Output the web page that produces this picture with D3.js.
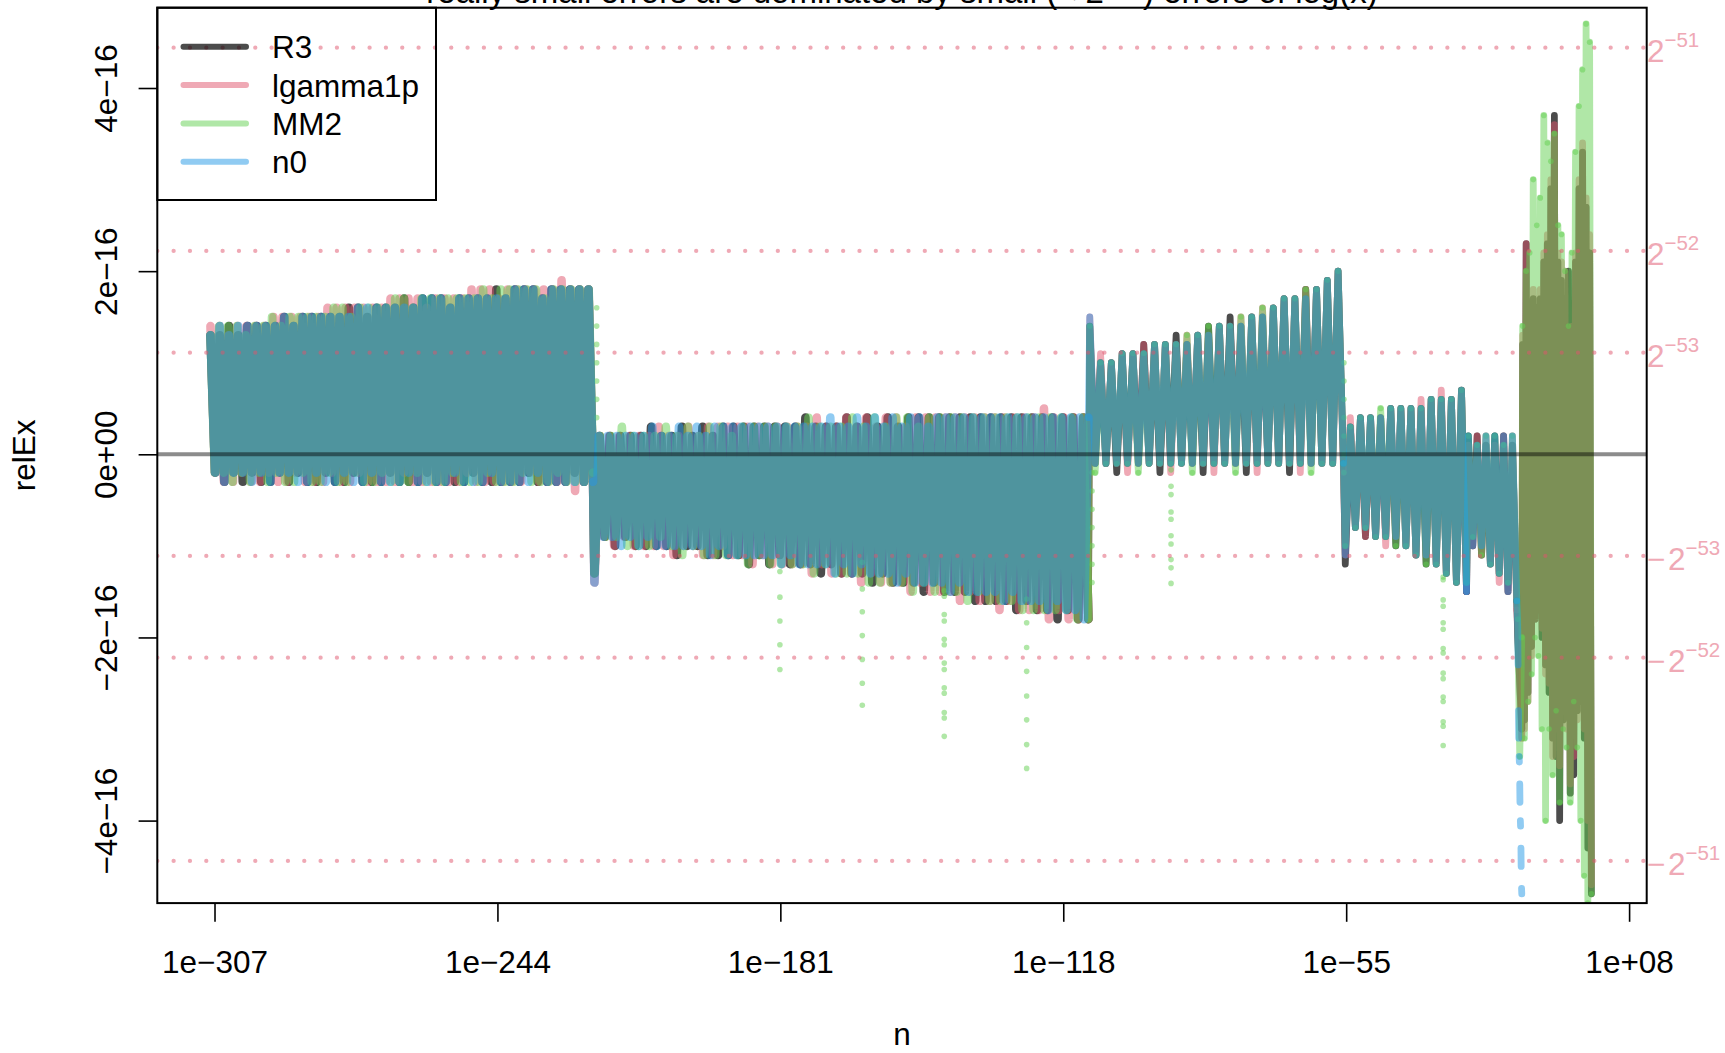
<!DOCTYPE html>
<html><head><meta charset="utf-8">
<script src="https://cdn.jsdelivr.net/npm/d3@7"></script>
<style>
html,body{margin:0;padding:0;background:#fff;}
svg{display:block;font-family:"Liberation Sans",Arial,Helvetica,sans-serif;}
</style></head><body>
<svg id="chart" width="1725" height="1053"></svg>
<script>
// ---------------- data ----------------
// relEx values are given in units of 1e-17; x = log10(n) ranges per sampled segment
// (null = NA, breaks the line)
const UNIT = 1e-17;
const seriesNames = ["R3", "lgamma1p", "MM2", "n0"];
const segLog10n = [[-307.9,-222.7],[-222.4,-112.4],[-112.1,-55.6],[-55.2,-28.2],[-27.8,-17.0],[-16.8,-15.9],[-15.7,-0.4]];
const xTickLog10 = [-307, -244, -181, -118, -55, 8];
const xTickLabels = ["1e\u2212307","1e\u2212244","1e\u2212181","1e\u2212118","1e\u221255","1e+08"];
const yTicks = [-4e-16, -2e-16, 0, 2e-16, 4e-16];
const yTickLabels = ["\u22124e\u221216","\u22122e\u221216","0e+00","2e\u221216","4e\u221216"];
const refPowers = [-51, -52, -53];

const R3 = [
 [13,-2,13,-3,14,-2,13,-3,14,-2,14,-3,14,-3,14,-2,15,-3,14,-2,15,-3,15,-3,15,-2,15,-3,15,-3,16,-2,16,-3,15,-3,16,-3,16,-2,16,-3,17,-3,16,-3,17,-2,17,-3,17,-3,16,-3,17,-3,17,-2,17,-3,17,-3,18,-3,17,-3,18,-3,18,-2,18,-3,17,-3,18,-3,18,-3,18,-2,18,-3,18,-3],
 [-13,2,-9,2,-10,2,-9,2,-10,2,-10,3,-10,2,-10,2,-11,3,-10,2,-10,3,-11,2,-11,3,-11,3,-11,3,-12,3,-11,3,-12,3,-11,3,-12,3,-12,4,-12,3,-13,3,-12,3,-13,4,-13,3,-13,4,-14,3,-13,4,-14,3,-14,4,-14,4,-15,4,-14,4,-15,4,-15,4,-15,4,-16,4,-16,4,-16,4,-16,4,-17,4,-16,4,-17,4,-17,4,-18,4,-17,4,-18,4,-18],
 [14,-1,10,-1,10,-2,11,-1,11,-1,12,-1,12,-2,12,-1,13,-1,12,-1,13,-2,14,-1,14,-1,15,-1,14,-2,15,-1,15,-1,16,-1,17,-2,17,-1,18,-1,18,-1,19,-1,20,-1],
 [-12,3,-8,4,-9,4,-9,4,-9,5,-10,5,-10,5,-11,5,-12,6,-12,6,-13,6,-14,7,-15],
 [2,-10,2,-11,1,-12,2,-13,2,-15,1,-16],
 [-20,-30],
 [12,-29,23,-26,14,-21,17,-18,16,-17,17,-20,21,-23,23,-26,29,-31,37,-33,21,-40,19,-29,17,-27,20,-37,13,-35,21,-28,29,-27,33,-31,27,-43,22,-48]
];
const lgamma1p = [
 [14,-2,14,-3,13,-3,14,-2,14,-3,14,-3,14,-2,15,-3,15,-3,15,-2,15,-3,15,-3,15,-3,16,-2,16,-3,16,-3,16,-2,16,-3,16,-3,16,-3,17,-3,17,-2,17,-3,17,-3,16,-3,17,-3,17,-3,17,-3,17,-2,18,-3,18,-3,18,-3,17,-3,18,-3,18,-3,18,-2,18,-3,18,-3,18,-3,19,-3,18,-4,18,-3,18,-3],
 [-14,2,-9,2,-10,2,-9,2,-10,2,-10,2,-10,3,-10,2,-11,2,-10,3,-10,2,-11,3,-11,3,-10,3,-11,3,-11,3,-12,3,-11,3,-12,3,-12,3,-12,3,-12,3,-13,4,-12,3,-13,3,-13,4,-13,3,-14,4,-13,3,-14,4,-14,4,-14,3,-15,4,-14,4,-15,4,-15,4,-15,4,-16,4,-15,4,-16,4,-16,4,-17,4,-16,4,-17,4,-17,4,-17,5,-18,4,-17,4,-18,4,-18,4,-18],
 [15,-1,11,-1,10,-1,11,-2,11,-1,12,-1,12,-1,12,-2,12,-1,13,-1,13,-1,13,-2,14,-1,14,-1,15,-1,15,-2,16,-1,16,-1,17,-1,17,-2,18,-1,18,-1,19,-1,20,-2],
 [-11,4,-8,4,-9,4,-9,4,-10,5,-9,5,-10,5,-11,6,-11,6,-12,7,-13,6,-14,7,-15],
 [1,-10,2,-11,2,-12,1,-14,2,-15,2,-17],
 [-19,-31],
 [13,-30,23,-27,15,-22,18,-18,17,-17,18,-19,22,-24,24,-25,30,-33,36,-30,22,-34,21,-28,20,-30,10,-36,14,-33,22,-29,30,-28,34,-30,28,-40,24,-47]
];
const MM2 = [
 [13,-2,14,-2,14,-3,14,-2,13,-3,14,-2,14,-3,15,-2,14,-3,15,-3,15,-2,15,-3,15,-3,15,-2,16,-3,16,-3,15,-2,16,-3,16,-3,16,-2,16,-3,17,-3,17,-3,16,-2,17,-3,17,-3,17,-3,17,-2,17,-3,17,-3,17,-3,18,-2,17,-3,18,-3,18,-3,18,-2,18,-3,18,-3,17,-3,18,-2,18,-3,18,-3,18,-3,18,-2],
 [-13,2,-9,2,-9,3,-10,2,-10,2,-10,2,-9,3,-10,2,-11,3,-10,2,-11,3,-11,3,-11,2,-11,3,-12,3,-11,3,-12,3,-12,3,-12,3,-12,4,-13,3,-12,3,-13,3,-13,4,-13,3,-14,4,-14,3,-14,4,-14,4,-15,3,-14,4,-15,4,-15,4,-15,4,-16,4,-15,4,-16,4,-16,4,-16,4,-17,4,-17,4,-17,4,-17,4,-17,4,-18,4,-18],
 [14,-2,10,-1,10,-1,11,-1,11,-2,11,-1,12,-1,12,-1,12,-1,13,-2,13,-1,14,-1,14,-1,14,-2,15,-1,15,-1,16,-1,16,-1,17,-1,17,-1,18,-2,18,-1,19,-1,20,-1],
 [-10,3,-8,4,-8,4,-9,5,-9,5,-10,5,-10,5,-11,5,-12,6,-12,6,-13,6,-14,7,-14],
 [2,-9,1,-11,2,-12,2,-13,1,-14,2,-16],
 [-18,-33,-20],
 [14,-31,20,-27,22,-24,30,-20,25,-22,28,-30,37,-40,34,-30,32,-35,35,-28,25,-38,24,-30,20,-32,14,-38,22,-27,33,-32,38,-40,42,-46,47,-49,45,-48]
];
const n0 = [
 [13,-2,14,-3,13,-2,14,-2,14,-3,14,-2,14,-3,14,-2,15,-2,14,-3,15,-3,15,-2,15,-3,15,-3,15,-2,15,-3,16,-3,16,-2,16,-3,16,-3,16,-3,16,-2,16,-3,17,-3,17,-3,17,-3,16,-2,17,-3,17,-3,17,-3,17,-2,17,-3,17,-3,18,-3,18,-3,18,-2,17,-3,18,-3,18,-3,18,-3,18,-3,18,-3],
 [-14,2,-9,2,-9,2,-10,2,-9,2,-10,2,-9,3,-10,2,-10,2,-10,3,-10,2,-10,3,-10,2,-11,3,-10,3,-11,3,-11,3,-11,3,-11,3,-11,3,-11,3,-12,3,-11,3,-12,3,-12,3,-12,3,-12,4,-13,3,-12,3,-13,4,-12,3,-13,4,-13,3,-13,4,-14,3,-13,4,-14,4,-14,3,-14,4,-14,4,-15,4,-14,4,-15,4,-15,4,-15,4,-15,4,-16,4,-15,4,-16,4,-16,4,-16,4,-17,4,-16,4,-17,4,-17,4,-18,4],
 [15,-1,10,-1,10,-1,11,-1,11,-1,11,-1,12,-1,12,-1,12,-1,12,-1,13,-1,13,-1,14,-1,14,-1,14,-1,15,-1,15,-1,16,-1,17,-1,17,-1,17,-1,18,-1,19,-1,20,-1],
 [-11,3,-8,4,-8,4,-9,4,-9,5,-9,5,-10,5,-11,5,-11,6,-12,6,-13,6,-14,7,-15],
 [2,-10,1,-10,2,-12,2,-13,2,-15,2,-16],
 [-19,-21,-23,null,-28,-31,null,-33,-33.6,null,-36,-38,null,-40,-40.6,null,-43,-45,null,-47.4,-48],
 []
];
// isolated MM2 points (lines between them are hidden by the point gaps)
const mm2IsoLog10n = [-221.9, -181.1, -162.75, -144.5, -126.15, -111.6, -94.0, -55.5, -33.4];
const mm2IsoValues = [
 [16,14,12,10,8,6,4],
 [-12.8,-15.6,-18.2,-20.8,-23.5],
 [-11.8,-14.7,-17.2,-19.8,-22.4,-25.0,-27.4],
 [-14.9,-15.5,-17.5,-18.2,-20.2,-20.8,-22.8,-23.5,-25.5,-26.1,-28.2,-28.8,-30.8],
 [-15.8,-18.4,-21.1,-23.7,-26.4,-29.0,-31.7,-34.3],
 [-2,-4,-6,-8,-10,-12,-14],
 [-1.7,-3.5,-4.4,-6.3,-7.1,-8.9,-9.8,-11.5,-12.4,-14.1],
 [10,8,6,4,2,0,-2],
 [-13.4,-13.7,-15.9,-16.6,-18.4,-19.1,-21.2,-21.7,-23.9,-24.5,-26.5,-27.0,-29.2,-29.7,-31.8]
];

// ---------------- layout / styles ----------------
const colors = ["rgba(0,0,0,0.7)", "rgba(223,83,107,0.5)", "rgba(97,208,79,0.5)", "rgba(34,151,230,0.5)"];
const segStroke = [8.6, 8.6, 6.8, 6.8, 6.8, 6.8, 6.8]; // dense segments render as a filled band
const P = {left:157.3, right:1646.7, top:7.7, bottom:903.1};
const FS = 31.5;

const svg = d3.select("#chart");
const x = d3.scaleLog().domain([Math.pow(10,-319.74), Math.pow(10,11.92)]).range([P.left, P.right]);
const y = d3.scaleLinear().domain([-4.901e-16, 4.877e-16]).range([P.bottom, P.top]);

// build each series as a list of segments of {n, v}
function build(segs){
  return segs.map((vals,k)=>{
    const [a,b]=segLog10n[k]; const m=vals.length;
    return vals.map((v,i)=>{
      const e = m===1 ? a : a+(b-a)*i/(m-1);
      return {n:Math.pow(10,e), v:(v===null? null : v*UNIT)};
    });
  });
}
const allSeries = [R3, lgamma1p, MM2, n0].map(build);

svg.append("defs").append("clipPath").attr("id","clip")
  .append("rect").attr("x",P.left).attr("y",P.top).attr("width",P.right-P.left).attr("height",P.bottom-P.top);
const gData = svg.append("g").attr("clip-path","url(#clip)");
const line = d3.line().defined(d=>d.v!==null).x(d=>x(d.n)).y(d=>y(d.v));

allSeries.forEach((segs,k)=>{
  const g = gData.append("g");
  let prev = null;
  segs.forEach((pts,s)=>{
    if(!pts.length) return;
    const path = prev ? [prev].concat(pts) : pts;
    g.append("path").datum(path).attr("d",line)
      .attr("fill","none").attr("stroke",colors[k]).attr("stroke-width",segStroke[s])
      .attr("stroke-linejoin","round").attr("stroke-linecap","round");
    prev = pts[pts.length-1];
  });
  if(k===2){
    const flat = segs.slice(2).flat();
    g.append("g").selectAll("circle").data(flat).join("circle")
      .attr("cx",d=>x(d.n)).attr("cy",d=>y(d.v)).attr("r",2.8).attr("fill",colors[2]);
    const iso=[];
    mm2IsoLog10n.forEach((e,i)=>mm2IsoValues[i].forEach(v=>iso.push({n:Math.pow(10,e),v:v*UNIT})));
    g.append("g").selectAll("circle").data(iso).join("circle")
      .attr("cx",d=>x(d.n)).attr("cy",d=>y(d.v)).attr("r",2.8).attr("fill",colors[2]);
  }
});

// zero line
gData.append("line").attr("x1",P.left).attr("x2",P.right).attr("y1",y(0)).attr("y2",y(0))
  .attr("stroke","rgba(0,0,0,0.45)").attr("stroke-width",4);

// dotted reference lines at +-2^-51..-53
const refVals = [];
refPowers.forEach(p=>{refVals.push(Math.pow(2,p)); refVals.push(-Math.pow(2,p));});
gData.selectAll("line.ref").data(refVals).join("line").attr("class","ref")
  .attr("x1",P.left).attr("x2",P.right).attr("y1",d=>y(d)).attr("y2",d=>y(d))
  .attr("stroke","rgba(223,83,107,0.5)").attr("stroke-width",4.3)
  .attr("stroke-dasharray","0 16.33").attr("stroke-linecap","round");

// right-side labels
const gR = svg.append("g").attr("fill","rgb(239,169,181)");
refPowers.forEach(p=>{
  [1,-1].forEach(s=>{
    const yy = y(s*Math.pow(2,p));
    if(s<0){
      gR.append("text").attr("x",1647).attr("y",yy+14.5).attr("font-size",FS).text("\u2212");
      gR.append("text").attr("x",1668).attr("y",yy+14.5).attr("font-size",FS).text("2");
      gR.append("text").attr("x",1685.5).attr("y",yy-0.5).attr("font-size",20.5).text("\u2212"+(-p));
    } else {
      gR.append("text").attr("x",1647).attr("y",yy+14.5).attr("font-size",FS).text("2");
      gR.append("text").attr("x",1664.5).attr("y",yy-0.5).attr("font-size",20.5).text("\u2212"+(-p));
    }
  });
});

// axes
const xAxis = d3.axisBottom(x).tickValues(xTickLog10.map(e=>Math.pow(10,e)))
  .tickFormat((d,i)=>xTickLabels[i]).tickSize(18.7).tickSizeOuter(0);
const gx = svg.append("g").attr("transform",`translate(0,${P.bottom})`).call(xAxis);
gx.select(".domain").remove();
gx.selectAll(".tick line").attr("stroke","#000").attr("stroke-width",1.6);
gx.selectAll(".tick text").attr("y",69.5).attr("dy",0).attr("font-size",FS).attr("fill","#000")
  .attr("font-family","'Liberation Sans',Arial,sans-serif");

const yAxis = d3.axisLeft(y).tickValues(yTicks).tickFormat((d,i)=>yTickLabels[i]).tickSize(18.7).tickSizeOuter(0);
const gy = svg.append("g").attr("transform",`translate(${P.left},0)`).call(yAxis);
gy.select(".domain").remove();
gy.selectAll(".tick line").attr("stroke","#000").attr("stroke-width",1.6);
gy.selectAll(".tick text").attr("x",0).attr("y",0).attr("dy",0)
  .attr("transform","translate(-40.3,0) rotate(-90)").attr("text-anchor","middle")
  .attr("font-size",FS).attr("fill","#000").attr("font-family","'Liberation Sans',Arial,sans-serif");

// axis titles
svg.append("text").attr("x",(P.left+P.right)/2).attr("y",1045).attr("text-anchor","middle")
  .attr("font-size",FS).text("n");
svg.append("text").attr("transform",`translate(35,${(P.top+P.bottom)/2}) rotate(-90)`)
  .attr("text-anchor","middle").attr("font-size",FS).text("relEx");

// title (mostly cut off at the top edge, as in the original figure)
const title = svg.append("text").attr("x",(P.left+P.right)/2).attr("y",3).attr("text-anchor","middle")
  .attr("font-size",33);
title.append("tspan").text("really small errors are dominated by small (< 2");
title.append("tspan").attr("font-size",23).attr("dy",-13).text("\u221253");
title.append("tspan").attr("dy",13).text(") errors of log(x)");

// legend
const L = {x0:157.3, y0:7.7, x1:436, y1:200};
svg.append("rect").attr("x",L.x0).attr("y",L.y0).attr("width",L.x1-L.x0).attr("height",L.y1-L.y0)
  .attr("fill","none").attr("stroke","#000").attr("stroke-width",2);
seriesNames.forEach((nm,i)=>{
  const ly = 46.7 + i*38.35;
  svg.append("line").attr("x1",183.5).attr("x2",246).attr("y1",ly).attr("y2",ly)
    .attr("stroke",colors[i]).attr("stroke-width",6).attr("stroke-linecap","round");
  svg.append("text").attr("x",272).attr("y",ly+11.6).attr("font-size",FS).text(nm);
});

// plot box
svg.append("rect").attr("x",P.left).attr("y",P.top).attr("width",P.right-P.left).attr("height",P.bottom-P.top)
  .attr("fill","none").attr("stroke","#000").attr("stroke-width",2);
</script></body></html>
